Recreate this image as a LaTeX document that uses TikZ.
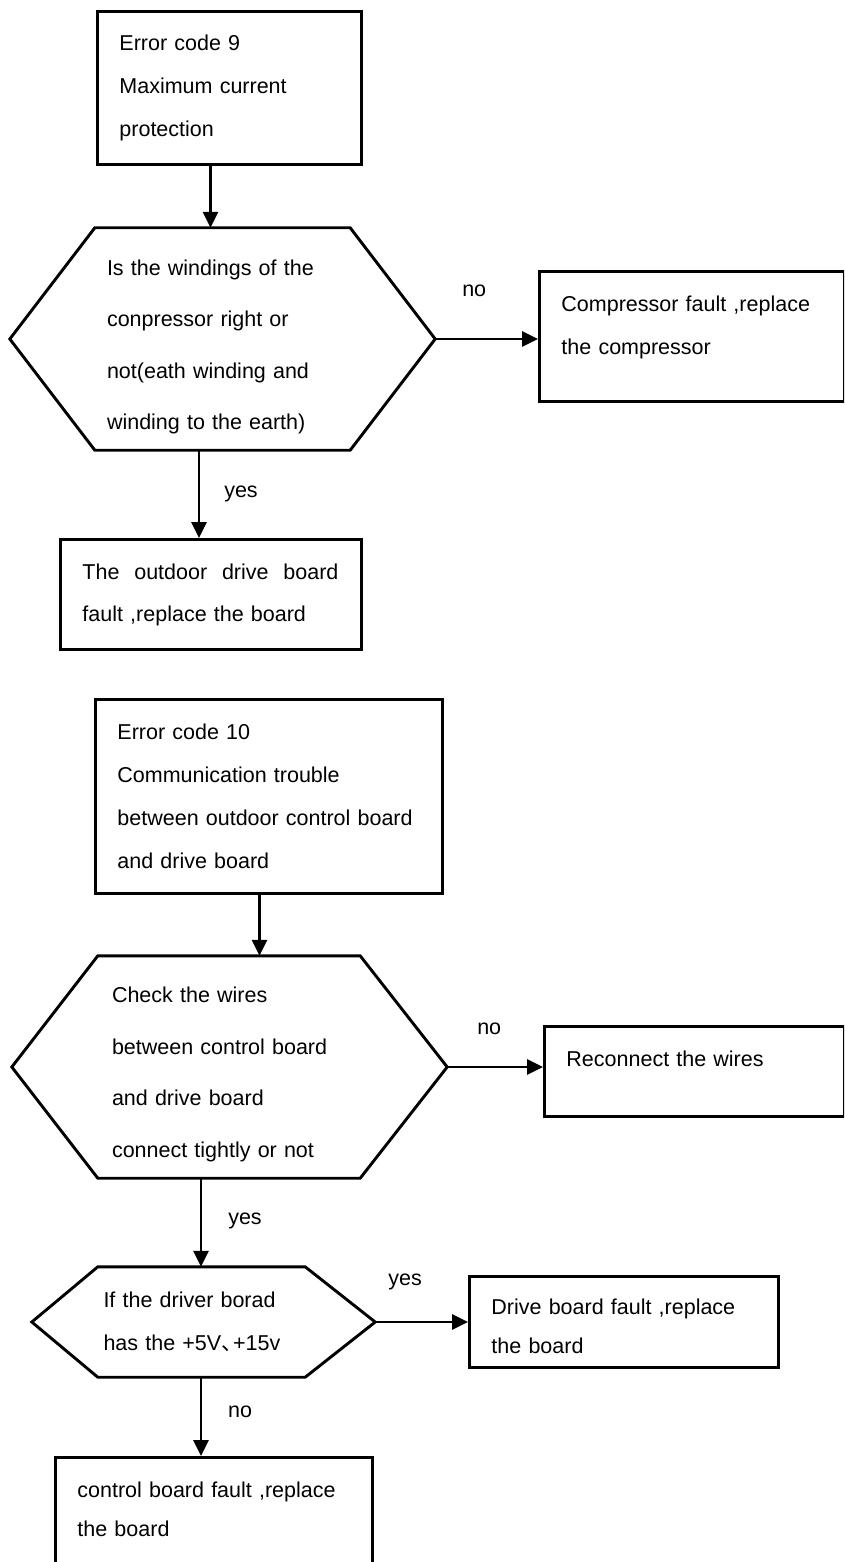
\documentclass[tikz,border=0pt]{standalone}
\usepackage{fontspec}
\setmainfont{Liberation Sans}
\newfontfamily\cjk{Noto Sans CJK SC}
\usetikzlibrary{positioning,calc,arrows.meta}

\begin{document}
\begin{tikzpicture}[x=1pt,y=-1pt,
    box/.style={draw,line width=2.9pt,anchor=north west,align=left,inner xsep=22pt,inner ysep=0pt,font=\fontsize{21.5}{43}\selectfont},
    hexa/.style={align=left,inner ysep=0pt,font=\fontsize{21.5}{51.5}\selectfont},
    arr/.style={line width=2.8pt,-{Triangle[length=16pt,width=15pt]}},
    lbl/.style={font=\fontsize{21.5}{26}\selectfont}]
        \fill[white] (0,0) rectangle (844,1562);
        \useasboundingbox (0,0) rectangle (844,1562);
        \clip (0,0) rectangle (844,1562);

        % error code 9
        \node[box,text width=220pt,minimum height=153pt] (b1) at (96,10) {Error code 9\\Maximum current\\protection};
        \node[hexa,minimum width=425pt,minimum height=222pt,inner xsep=97pt,text width=231pt,text depth=143pt] (q1) at (222.5,339) {Is the windings of the\\conpressor right or\\not(eath winding and\\winding to the earth)};
        \node[box,text width=261pt,minimum height=130pt,text depth=66pt] (b2) at (538,270) {Compressor fault ,replace\\the compressor};
        \node[box,text width=257pt,minimum height=110pt,font=\fontsize{21.5}{42}\selectfont] (b3) at (59,538) {\hbox to 256pt{The\hfill outdoor\hfill drive\hfill board}\\fault ,replace the board};

        \draw[line width=2.9pt] (q1.west) -- ($(q1.north west)+(85,0)$) -- ($(q1.north east)+(-85,0)$) -- (q1.east)
            -- ($(q1.south east)+(-85,0)$) -- ($(q1.south west)+(85,0)$) -- cycle;

        \draw[arr] ([xshift=-19pt]b1.south) -- ([xshift=-19pt]b1.south |- q1.north);
        \draw[arr] (q1.east) -- (q1.east -| b2.west);
        \draw[arr] ([xshift=-23.5pt]q1.south) -- ([xshift=-23.5pt]q1.south |- b3.north);
        \node[lbl] (n1) at ($(q1.east)+(39,-48)$) {no};
        \node[lbl] (y1) at ($(q1.south)+(18.5,44)$) {yes};

        % error code 10
        \node[box,text width=303pt,minimum height=194pt] (b4) at (94,698) {Error code 10\\Communication trouble\\between outdoor control board\\and drive board};
        \node[hexa,minimum width=435pt,minimum height=222pt,inner xsep=100pt,text width=235pt,text depth=144pt] (q2) at (229.5,1067) {Check the wires\\between control board\\and drive board\\connect tightly or not};
        \node[box,text width=256pt,minimum height=90pt,text depth=26pt] (b5) at (543,1025) {Reconnect the wires};
        \node[hexa,minimum width=343pt,minimum height=110pt,inner xsep=71.5pt,text width=200pt,font=\fontsize{21.5}{43}\selectfont] (q3) at (203.5,1322) {If the driver borad\\has the +5V\makebox[0.55em][l]{\cjk 、}+15v};
        \node[box,text width=265pt,minimum height=91pt,text depth=31pt,font=\fontsize{21.5}{39}\selectfont] (b6) at (468,1275) {Drive board fault ,replace\\the board};
        \node[box,text width=273pt,minimum height=112pt,text depth=47pt,font=\fontsize{21.5}{39}\selectfont] (b7) at (54,1456) {control board fault ,replace\\the board};

        \draw[line width=2.9pt] (q2.west) -- ($(q2.north west)+(86,0)$) -- ($(q2.north east)+(-87,0)$) -- (q2.east)
            -- ($(q2.south east)+(-87,0)$) -- ($(q2.south west)+(86,0)$) -- cycle;
        \draw[line width=2.9pt] (q3.west) -- ($(q3.north west)+(66,0)$) -- ($(q3.north east)+(-70,0)$) -- (q3.east)
            -- ($(q3.south east)+(-70,0)$) -- ($(q3.south west)+(66,0)$) -- cycle;

        \draw[arr] ([xshift=-9.5pt]b4.south) -- ([xshift=-9.5pt]b4.south |- q2.north);
        \draw[arr] (q2.east) -- (q2.east -| b5.west);
        \draw[arr] ([xshift=-28.5pt]q2.south) -- ([xshift=-28.5pt]q2.south |- q3.north);
        \draw[arr] (q3.east) -- (q3.east -| b6.west);
        \draw[arr] ([xshift=-2.5pt]q3.south) -- ([xshift=-2.5pt]q3.south |- b7.north);
        \node[lbl] (n2) at ($(q2.east)+(42,-38)$) {no};
        \node[lbl] (y2) at ($(q2.south)+(15.5,43)$) {yes};
        \node[lbl] (y3) at ($(q3.east)+(30,-40)$) {yes};
        \node[lbl] (n3) at ($(q3.south)+(36.5,35)$) {no};
    \end{tikzpicture}
\end{document}
